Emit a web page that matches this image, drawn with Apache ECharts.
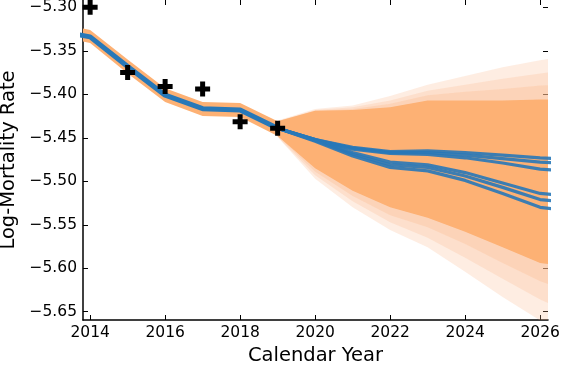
<!DOCTYPE html>
<html>
<head>
<meta charset="utf-8">
<script src="https://cdn.jsdelivr.net/npm/echarts@6/dist/echarts.min.js"></script>
<style>
  html, body { margin: 0; padding: 0; background: #fff; }
  #chart { width: 561px; height: 366px; }
</style>
</head>
<body>
<div id="chart"></div>
<script>
// observed log-mortality rates
let obsYears = [2014, 2015, 2016, 2017, 2018, 2019];
let observed = [-5.300, -5.375, -5.391, -5.394, -5.4315, -5.439];

// fitted period
let fitYears = [2013, 2014, 2015, 2016, 2017, 2018, 2019];
let fitted = [-5.326, -5.334, -5.368, -5.401, -5.4165, -5.418, -5.439];
let fitUpper = [-5.318, -5.326, -5.360, -5.393, -5.409, -5.410, -5.431];
let fitLower = [-5.332, -5.341, -5.376, -5.409, -5.425, -5.426, -5.448];

// forecast period
let fcYears = [2019, 2020, 2021, 2022, 2023, 2024, 2025, 2026, 2027];
let solidUpper = [-5.431, -5.419, -5.418, -5.415, -5.407, -5.407, -5.407, -5.406, -5.406];
let solidLower = [-5.448, -5.485, -5.511, -5.530, -5.542, -5.558, -5.576, -5.594, -5.600];
let fan1Upper = [-5.430, -5.417, -5.413, -5.402, -5.389, -5.379, -5.369, -5.361, -5.354];
let fan1Lower = [-5.449, -5.497, -5.530, -5.556, -5.576, -5.604, -5.633, -5.660, -5.685];
let fan2Upper = [-5.431, -5.418, -5.415, -5.407, -5.396, -5.389, -5.382, -5.376, -5.371];
let fan2Lower = [-5.449, -5.493, -5.523, -5.547, -5.565, -5.588, -5.612, -5.636, -5.655];
let fan3Upper = [-5.431, -5.419, -5.417, -5.411, -5.401, -5.397, -5.394, -5.390, -5.388];
let fan3Lower = [-5.448, -5.489, -5.517, -5.539, -5.553, -5.572, -5.594, -5.615, -5.630];

// forecast mean paths
let pathA1 = [-5.439, -5.452, -5.461, -5.466, -5.465, -5.467, -5.470, -5.473, -5.475];
let pathA2 = [-5.439, -5.452, -5.462, -5.467, -5.467, -5.470, -5.474, -5.478, -5.480];
let pathA3 = [-5.439, -5.453, -5.463, -5.468, -5.469, -5.473, -5.479, -5.486, -5.489];
let pathB1 = [-5.439, -5.452, -5.467, -5.478, -5.481, -5.490, -5.502, -5.514, -5.518];
let pathB2 = [-5.439, -5.453, -5.469, -5.481, -5.484, -5.494, -5.507, -5.521, -5.525];
let pathB3 = [-5.439, -5.454, -5.471, -5.484, -5.488, -5.499, -5.514, -5.530, -5.535];

let xTicks = [2014, 2016, 2018, 2020, 2022, 2024, 2026];
let yTicks = [-5.65, -5.60, -5.55, -5.50, -5.45, -5.40, -5.35, -5.30];

const ORANGE = '#fdb174';
const BLUE = '#2878b8';
const FONT = 'DejaVu Sans';

function zip(xs, ys) {
    return xs.map((x, i) => [x, ys[i]]);
}

// polygon between lower and upper, drawn through the axes
function bandSeries(xs, lower, upper, color, opacity) {
    return {
        type: 'custom', silent: true, z: 1,
        data: [[xs[0], lower[0]]],
        renderItem: function (params, api) {
            let top = xs.map((x, i) => api.coord([x, upper[i]]));
            let bottom = xs.map((x, i) => api.coord([x, lower[i]])).reverse();
            let cs = params.coordSys;
            return {
                type: 'polygon',
                shape: {points: top.concat(bottom)},
                style: {fill: color, opacity: opacity},
                clipPath: {type: 'rect', shape: {x: cs.x, y: cs.y, width: cs.width, height: cs.height}}
            };
        }
    };
}

function pathSeries(values) {
    return {
        type: 'line', data: zip(fcYears, values), symbol: 'none', z: 3,
        lineStyle: {color: BLUE, width: 3.2, opacity: 0.9}
    };
}

let plus = 'path://M5,0H10V5H15V10H10V15H5V10H0V5H5Z';
let fmtY = v => (v < 0 ? '\u2212' : '') + Math.abs(v).toFixed(2);

let series = [
    bandSeries(fcYears, fan1Lower, fan1Upper, '#fdb98a', 0.25),
    bandSeries(fcYears, fan2Lower, fan2Upper, '#fdb98a', 0.25),
    bandSeries(fcYears, fan3Lower, fan3Upper, '#fdb98a', 0.3),
    bandSeries(fitYears, fitLower, fitUpper, ORANGE, 1),
    bandSeries(fcYears, solidLower, solidUpper, ORANGE, 1),
    {
        type: 'line', data: zip(fitYears, fitted), symbol: 'none', z: 3,
        lineStyle: {color: BLUE, width: 5}
    }
].concat(
    [pathA1, pathA2, pathA3, pathB1, pathB2, pathB3].map(pathSeries),
    [{
        type: 'scatter', data: zip(obsYears, observed), symbol: plus, symbolSize: 15,
        itemStyle: {color: '#000', opacity: 1}, clip: false, z: 5
    }]
);

let tickStyle = {show: true, inside: true, length: 5, lineStyle: {color: '#000', width: 1}};

let option = {
    animation: false,
    grid: {left: 83, right: 13, top: 0, bottom: 46, outerBoundsMode: 'none', containLabel: false},
    xAxis: [{
        type: 'value', min: 2013.81, max: 2026.21,
        name: 'Calendar Year', nameLocation: 'middle', nameGap: 23,
        nameTextStyle: {fontFamily: FONT, fontSize: 19.5, color: '#000'},
        axisLine: {show: true, onZero: false, lineStyle: {color: '#000', width: 1.5}},
        axisTick: Object.assign({customValues: xTicks}, tickStyle),
        axisLabel: {customValues: xTicks, formatter: v => String(v), fontFamily: FONT, fontSize: 15.5, color: '#000', margin: 5},
        splitLine: {show: false}
    }, {
        type: 'value', position: 'top', min: 2013.81, max: 2026.21,
        axisLine: {show: false},
        axisTick: Object.assign({customValues: xTicks}, tickStyle),
        axisLabel: {show: false}, splitLine: {show: false}
    }],
    yAxis: [{
        type: 'value', min: -5.6595, max: -5.2916,
        name: 'Log-Mortality Rate', nameLocation: 'middle', nameGap: 60,
        nameTextStyle: {fontFamily: FONT, fontSize: 19.5, color: '#000'},
        axisLine: {show: true, onZero: false, lineStyle: {color: '#000', width: 1.5}},
        axisTick: Object.assign({customValues: yTicks}, tickStyle),
        axisLabel: {customValues: yTicks, formatter: fmtY, fontFamily: FONT, fontSize: 15.5, color: '#000', margin: 6},
        splitLine: {show: false}
    }, {
        type: 'value', position: 'right', min: -5.6595, max: -5.2916,
        axisLine: {show: false},
        axisTick: Object.assign({customValues: yTicks}, tickStyle),
        axisLabel: {show: false}, splitLine: {show: false}
    }],
    series: series
};

let chart = echarts.init(document.getElementById('chart'));
chart.setOption(option);
</script>
</body>
</html>
